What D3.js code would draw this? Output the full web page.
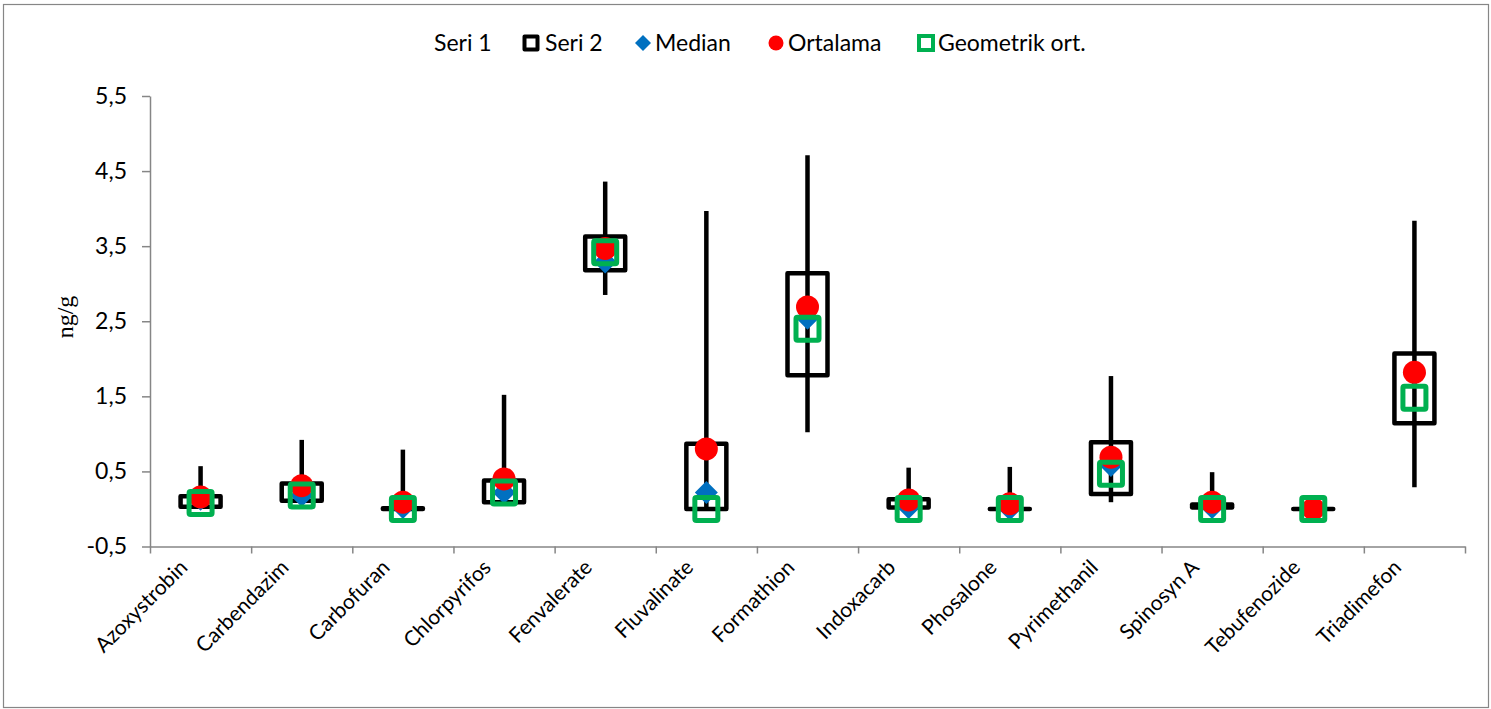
<!DOCTYPE html>
<html>
<head>
<meta charset="utf-8">
<script src="https://cdn.jsdelivr.net/npm/d3@7"></script>
<style>
  body { margin: 0; background: #fff; }
  svg { display: block; }
</style>
</head>
<body>
<div id="chart"></div>
<script>
// pesticide names on the x axis
const categories = ["Azoxystrobin", "Carbendazim", "Carbofuran", "Chlorpyrifos", "Fenvalerate",
    "Fluvalinate", "Formathion", "Indoxacarb", "Phosalone", "Pyrimethanil", "Spinosyn A",
    "Tebufenozide", "Triadimefon"];

// whisker ends
const maxVals = [0.57, 0.92, 0.79, 1.52, 4.36, 3.97, 4.71, 0.55, 0.56, 1.77, 0.49, 0.0, 3.84];
const minVals = [0.03, 0.11, 0.0, 0.09, 2.85, 0.0, 1.02, 0.0, 0.0, 0.09, 0.0, 0.0, 0.29];
// box (Seri 2)
const boxTop = [0.17, 0.34, 0.01, 0.38, 3.63, 0.87, 3.14, 0.13, 0.0, 0.89, 0.06, 0.0, 2.07];
const boxBottom = [0.03, 0.11, 0.0, 0.09, 3.18, 0.0, 1.78, 0.02, 0.0, 0.20, 0.02, 0.0, 1.14];
// markers
const medianVals = [0.13, 0.18, 0.02, 0.22, 3.29, 0.22, 2.54, 0.02, 0.0, 0.58, 0.02, 0.0, 1.80];
const meanVals = [0.16, 0.31, 0.09, 0.40, 3.47, 0.80, 2.69, 0.12, 0.07, 0.69, 0.09, 0.0, 1.82];
const geoVals = [0.08, 0.18, 0.0, 0.22, 3.42, 0.0, 2.40, 0.0, 0.0, 0.47, 0.0, 0.0, 1.48];

const yTicks = [-0.5, 0.5, 1.5, 2.5, 3.5, 4.5, 5.5];
const legendLabels = ["Seri 1", "Seri 2", "Median", "Ortalama", "Geometrik ort."];

const W = 1491, H = 709;
const font = "Lato, 'Open Sans', sans-serif";
const fontSize = "23px";
const axisColor = "#868686";

const svg = d3.select("#chart").append("svg")
    .attr("width", W)
    .attr("height", H);

// outer frame
svg.append("rect")
    .attr("x", 3.5).attr("y", 4.5)
    .attr("width", W - 6).attr("height", H - 6)
    .attr("fill", "none")
    .attr("stroke", axisColor)
    .attr("stroke-width", 1.2);

const plot = { left: 150, right: 1465, top: 96, bottom: 546.5 };

const x = d3.scaleBand()
    .domain(categories)
    .range([plot.left, plot.right])
    .padding(0);

const xIdx = d3.scaleLinear()
    .domain([0, categories.length])
    .range([plot.left, plot.right]);

const y = d3.scaleLinear()
    .domain([-0.5, 5.5])
    .range([plot.bottom, plot.top]);

// y axis
const yAxis = svg.append("g")
    .attr("transform", `translate(${plot.left},0)`)
    .call(d3.axisLeft(y)
        .tickValues(yTicks)
        .tickSize(8)
        .tickSizeOuter(0)
        .tickPadding(15)
        .tickFormat(d => d3.format(".1f")(d).replace(".", ",").replace("−", "-")));

// x axis (ticks on category boundaries)
const xAxis = svg.append("g")
    .attr("transform", `translate(0,${plot.bottom})`)
    .call(d3.axisBottom(xIdx)
        .tickValues(d3.range(0, categories.length + 1))
        .tickSize(7)
        .tickSizeOuter(0)
        .tickFormat(""));

[yAxis, xAxis].forEach(g => {
    g.select(".domain").attr("stroke", axisColor).attr("stroke-width", 1.5);
    g.selectAll(".tick line").attr("stroke", axisColor).attr("stroke-width", 1.5);
    g.selectAll("text")
        .attr("fill", "#000")
        .style("font-family", font)
        .style("font-size", fontSize);
});

// category labels
svg.append("g").selectAll("text")
    .data(categories)
    .enter().append("text")
    .attr("transform", d => `translate(${x(d) + x.bandwidth() / 2 - 17},${plot.bottom + 17}) rotate(-45)`)
    .attr("text-anchor", "end")
    .attr("dy", "0.35em")
    .style("font-family", font)
    .style("font-size", "21px")
    .attr("fill", "#000")
    .text(d => d);

// y axis title
svg.append("text")
    .attr("transform", "translate(73,317) rotate(-90)")
    .attr("text-anchor", "middle")
    .style("font-family", "'Liberation Serif', 'Times New Roman', serif")
    .style("font-size", "24px")
    .attr("fill", "#000")
    .text("ng/g");

const rows = categories.map((c, i) => ({
    cat: c, max: maxVals[i], min: minVals[i], top: boxTop[i], bottom: boxBottom[i],
    median: medianVals[i], mean: meanVals[i], geo: geoVals[i]
}));
const cx = d => x(d.cat) + x.bandwidth() / 2;

const marks = svg.append("g");

// whiskers
marks.selectAll(".whisker")
    .data(rows.filter(d => d.max > d.min))
    .enter().append("line")
    .attr("class", "whisker")
    .attr("x1", cx).attr("x2", cx)
    .attr("y1", d => y(d.max)).attr("y2", d => y(d.min))
    .attr("stroke", "#000")
    .attr("stroke-width", 4.5);

// boxes
const boxW = 40;
marks.selectAll(".box")
    .data(rows)
    .enter().append("rect")
    .attr("class", "box")
    .attr("x", d => cx(d) - boxW / 2)
    .attr("width", boxW)
    .attr("y", d => y(d.top))
    .attr("height", d => Math.max(0.01, y(d.bottom) - y(d.top)))
    .attr("fill", "none")
    .attr("stroke", "#000")
    .attr("stroke-width", 4.5)
    .attr("stroke-linejoin", "round");

// median diamonds
const dSize = 11.5;
const diamond = (s) => `M0,${-s}L${s},0L0,${s}L${-s},0Z`;
marks.selectAll(".median")
    .data(rows)
    .enter().append("path")
    .attr("class", "median")
    .attr("transform", d => `translate(${cx(d)},${y(d.median)})`)
    .attr("d", diamond(dSize))
    .attr("fill", "#0070C0");

// means
marks.selectAll(".mean")
    .data(rows)
    .enter().append("circle")
    .attr("class", "mean")
    .attr("cx", cx)
    .attr("cy", d => y(d.mean))
    .attr("r", 11.5)
    .attr("fill", "#FF0000");

// geometric means
const gSize = 23;
marks.selectAll(".geo")
    .data(rows)
    .enter().append("rect")
    .attr("class", "geo")
    .attr("x", d => cx(d) - gSize / 2)
    .attr("y", d => y(d.geo) - gSize / 2)
    .attr("width", gSize).attr("height", gSize)
    .attr("rx", 1.5)
    .attr("fill", "none")
    .attr("stroke", "#00B050")
    .attr("stroke-width", 5);

// legend
const legendY = 43;
const legendItems = [
    { label: legendLabels[0], marker: null, tx: 434 },
    { label: legendLabels[1], marker: "box", mx: 531, tx: 545 },
    { label: legendLabels[2], marker: "diamond", mx: 643, tx: 655 },
    { label: legendLabels[3], marker: "circle", mx: 776, tx: 788 },
    { label: legendLabels[4], marker: "geo", mx: 926, tx: 938 }
];
const legend = svg.append("g");
legendItems.forEach(it => {
    if (it.marker === "box") {
        legend.append("rect")
            .attr("x", it.mx - 6.5).attr("y", legendY - 6.5)
            .attr("width", 13).attr("height", 13)
            .attr("fill", "none").attr("stroke", "#000").attr("stroke-width", 4)
            .attr("stroke-linejoin", "round");
    } else if (it.marker === "diamond") {
        legend.append("path")
            .attr("transform", `translate(${it.mx},${legendY})`)
            .attr("d", diamond(8))
            .attr("fill", "#0070C0");
    } else if (it.marker === "circle") {
        legend.append("circle")
            .attr("cx", it.mx).attr("cy", legendY).attr("r", 7.5)
            .attr("fill", "#FF0000");
    } else if (it.marker === "geo") {
        legend.append("rect")
            .attr("x", it.mx - 7).attr("y", legendY - 7)
            .attr("width", 14).attr("height", 14)
            .attr("fill", "none").attr("stroke", "#00B050").attr("stroke-width", 4);
    }
    legend.append("text")
        .attr("x", it.tx).attr("y", legendY)
        .attr("dy", "0.35em")
        .style("font-family", font)
        .style("font-size", fontSize)
        .attr("fill", "#000")
        .text(it.label);
});
</script>
</body>
</html>
